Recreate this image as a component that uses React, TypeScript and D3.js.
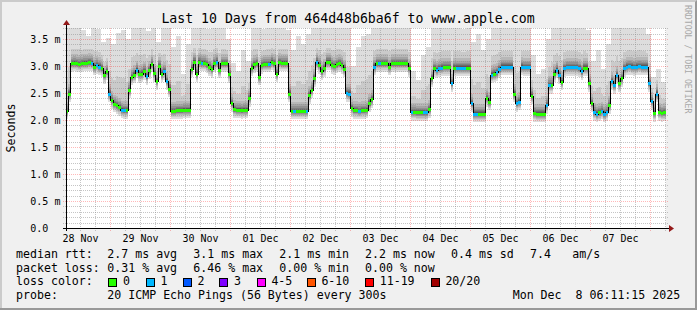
import React from "react";
import * as d3 from "d3";

// ---------- time range ----------
const START = Date.UTC(2025, 10, 28, 6, 11, 15);
const END = Date.UTC(2025, 11, 8, 6, 11, 15);
const HOUR = 3600e3;

const dayLabels = ["28 Nov", "29 Nov", "30 Nov", "01 Dec", "02 Dec", "03 Dec", "04 Dec", "05 Dec", "06 Dec", "07 Dec"];
const dayFirstHour = [6, 0, 0, 0, 0, 0, 0, 0, 0, 0, 0];

// ---------- y axis ----------
const yTickValues = [0, 0.5, 1, 1.5, 2, 2.5, 3, 3.5];
const yTickLabels = ["0.0", "0.5 m", "1.0 m", "1.5 m", "2.0 m", "2.5 m", "3.0 m", "3.5 m"];

// ---------- hourly median rtt (ms) ----------
const medianNov28 = [2.17, 2.49, 3.05, 3.06, 3.05, 3.04, 3.05, 3.06, 3.06, 3.07, 3.06, 2.99, 3.02, 2.99, 2.96, 2.83, 2.9, 2.49];
const medianNov29 = [2.37, 2.3, 2.27, 2.24, 2.19, 2.18, 2.18, 2.56, 2.8, 2.84, 2.93, 2.85, 2.86, 2.91, 2.81, 2.92, 3.04, 2.87, 2.72, 3.0, 2.86, 2.9, 2.72, 2.58];
const medianNov30 = [2.17, 2.17, 2.18, 2.18, 2.18, 2.19, 2.19, 2.19, 2.95, 3.08, 2.86, 3.08, 3.06, 3.06, 3.03, 2.98, 2.94, 3.05, 3.08, 2.93, 3.05, 3.05, 3.05, 2.85];
const medianDec1 = [2.31, 2.2, 2.19, 2.19, 2.18, 2.19, 2.19, 2.41, 2.97, 3.03, 3.05, 2.8, 3.02, 3.04, 3.04, 3.04, 3.08, 3.05, 2.86, 3.07, 3.06, 3.06, 3.06, 2.49];
const medianDec2 = [2.17, 2.17, 2.17, 2.17, 2.17, 2.17, 2.17, 2.46, 2.56, 2.77, 3.08, 3.02, 2.9, 2.96, 3.08, 3.08, 3.02, 3.0, 3.03, 3.05, 3.02, 2.95, 2.5, 2.49];
const medianDec3 = [2.22, 2.18, 2.18, 2.17, 2.18, 2.18, 2.19, 2.31, 2.38, 2.99, 3.05, 3.05, 3.05, 3.05, 3.05, 2.99, 3.05, 3.05, 3.05, 3.05, 3.05, 3.05, 3.05, 2.96];
const medianDec4 = [2.15, 2.15, 2.14, 2.14, 2.14, 2.14, 2.14, 2.2, 2.77, 2.96, 2.93, 2.96, 2.97, 2.98, 2.98, 2.98, 2.68, 2.97, 2.97, 2.97, 2.97, 2.97, 2.97, 2.97];
const medianDec5 = [2.31, 2.12, 2.12, 2.12, 2.12, 2.12, 2.41, 2.34, 2.84, 2.86, 2.88, 2.94, 2.99, 2.99, 2.99, 2.99, 2.99, 2.49, 2.31, 2.34, 2.99, 2.98, 2.98, 2.98];
const medianDec6 = [2.45, 2.13, 2.12, 2.12, 2.12, 2.12, 2.28, 2.65, 2.65, 2.86, 2.93, 2.83, 2.71, 2.96, 2.98, 2.98, 2.98, 2.98, 2.98, 2.96, 2.9, 2.97, 2.97, 2.68];
const medianDec7 = [2.31, 2.15, 2.12, 2.14, 2.17, 2.12, 2.15, 2.28, 2.72, 2.65, 2.83, 2.68, 2.77, 2.96, 2.99, 3.0, 2.99, 2.98, 2.99, 3.0, 2.99, 2.99, 2.99, 2.68];
const medianDec8 = [2.35, 2.13, 2.49, 2.15, 2.13, 2.14, 2.14];

// ---------- hourly lost pings (of 20) ----------
const lossNov28 = [0, 0, 0, 0, 0, 0, 0, 0, 0, 0, 1, 0, 1, 1, 0, 0, 0, 1];
const lossNov29 = [0, 0, 0, 0, 1, 1, 0, 0, 0, 0, 1, 0, 0, 0, 1, 0, 0, 0, 0, 0, 0, 1, 1, 0];
const lossNov30 = [0, 0, 0, 0, 0, 0, 0, 0, 0, 0, 0, 0, 1, 0, 0, 0, 0, 0, 1, 0, 0, 0, 0, 0];
const lossDec1 = [0, 0, 0, 0, 0, 0, 0, 0, 0, 0, 0, 0, 0, 0, 0, 1, 0, 0, 0, 0, 0, 0, 0, 0];
const lossDec2 = [0, 1, 0, 0, 0, 0, 1, 0, 0, 0, 1, 0, 0, 0, 0, 0, 0, 0, 0, 0, 0, 0, 1, 1];
const lossDec3 = [0, 0, 0, 1, 0, 0, 0, 0, 0, 1, 0, 1, 0, 0, 0, 0, 0, 0, 0, 0, 0, 0, 0, 0];
const lossDec4 = [1, 0, 0, 0, 0, 1, 1, 0, 0, 0, 1, 1, 1, 0, 0, 0, 1, 0, 1, 1, 1, 1, 0, 0];
const lossDec5 = [1, 1, 1, 0, 0, 0, 0, 0, 1, 0, 1, 1, 1, 1, 1, 1, 1, 0, 1, 1, 1, 1, 1, 1];
const lossDec6 = [0, 0, 0, 0, 0, 0, 1, 1, 0, 0, 1, 1, 0, 1, 1, 1, 1, 1, 1, 1, 1, 0, 0, 0];
const lossDec7 = [0, 1, 1, 0, 1, 1, 1, 0, 1, 1, 1, 0, 0, 1, 1, 1, 1, 1, 1, 1, 1, 1, 1, 1];
const lossDec8 = [1, 0, 1, 0, 0, 0, 0];

// ---------- highest ping per 2-hour bin (ms) ----------
const smokeTopNov28 = [3.7, 3.72, 3.72, 3.66, 3.55, 3.72, 3.68, 3.45, 3.52];
const smokeTopNov29 = [3.4, 3.62, 3.66, 3.5, 3.72, 3.72, 3.7, 3.64, 3.72, 3.45, 3.7, 3.72];
const smokeTopNov30 = [3.35, 3.55, 2.85, 3.4, 3.72, 3.72, 3.72, 3.68, 3.72, 3.72, 3.72, 3.5];
const smokeTopDec1 = [3.05, 2.9, 3.3, 3.1, 3.72, 3.72, 3.68, 3.72, 3.72, 3.7, 3.72, 3.66];
const smokeTopDec2 = [3.3, 3.55, 3.4, 3.6, 3.72, 3.72, 3.72, 3.7, 3.72, 3.72, 3.72, 3.72];
const smokeTopDec3 = [3.0, 3.35, 3.55, 3.6, 3.72, 3.72, 3.72, 3.72, 3.72, 3.7, 3.72, 3.72];
const smokeTopDec4 = [2.9, 2.75, 3.2, 3.35, 3.72, 3.72, 3.72, 3.72, 3.72, 3.72, 3.68, 3.72];
const smokeTopDec5 = [3.45, 3.6, 3.3, 3.5, 3.72, 3.72, 3.72, 3.72, 3.7, 3.72, 3.72, 3.72];
const smokeTopDec6 = [3.2, 2.85, 2.95, 3.5, 3.72, 3.72, 3.72, 3.72, 3.72, 3.72, 3.72, 3.66];
const smokeTopDec7 = [3.1, 3.3, 2.95, 3.4, 3.72, 3.72, 3.72, 3.72, 3.72, 3.72, 3.72, 3.6];
const smokeTopDec8 = [2.8, 2.95, 2.7, 2.7];

// estimated spread of the sorted pings around the median (ms)
const belowMedianOffsets = [0.16, 0.12, 0.095, 0.075, 0.058, 0.044, 0.032, 0.021, 0.011, 0.004];
const aboveMedianOffsets = [0.004, 0.012, 0.024, 0.04, 0.06, 0.085, 0.12, 0.17];

// ---------- legend ----------
const lossColorLabels = ["0", "1", "2", "3", "4-5", "6-10", "11-19", "20/20"];
const lossColors = ["#26ff00", "#00b8ff", "#0059ff", "#7e00ff", "#ff00ff", "#ff5500", "#ff0000", "#a10000"];
const rttStats = ["2.7 ms avg", "3.1 ms max", "2.1 ms min", "2.2 ms now", "0.4 ms sd", "7.4", "am/s"];
const lossStats = ["0.31 % avg", "6.46 % max", "0.00 % min", "0.00 % now"];
const probeText = "20 ICMP Echo Pings (56 Bytes) every 300s";
const dateText = "Mon Dec  8 06:11:15 2025";
const titleText = "Last 10 Days from 464d48b6ba6f to www.apple.com";

const medianDays = [medianNov28, medianNov29, medianNov30, medianDec1, medianDec2, medianDec3, medianDec4, medianDec5, medianDec6, medianDec7, medianDec8];
const lossDays = [lossNov28, lossNov29, lossNov30, lossDec1, lossDec2, lossDec3, lossDec4, lossDec5, lossDec6, lossDec7, lossDec8];
const smokeDays = [smokeTopNov28, smokeTopNov29, smokeTopNov30, smokeTopDec1, smokeTopDec2, smokeTopDec3, smokeTopDec4, smokeTopDec5, smokeTopDec6, smokeTopDec7, smokeTopDec8];

type Pt = { t: number; m: number; loss: number; top: number; p: number[] };

function buildSeries(): Pt[] {
  const out: Pt[] = [];
  medianDays.forEach((arr, d) => {
    const dayStart = Date.UTC(2025, 10, 28 + d);
    const fh = dayFirstHour[d];
    arr.forEach((m, j) => {
      const hour = fh + j;
      const top = smokeDays[d][Math.floor(hour / 2) - fh / 2];
      const p: number[] = [];
      belowMedianOffsets.forEach((o) => p.push(m - o));
      aboveMedianOffsets.forEach((o) => p.push(Math.min(top, m + o)));
      p.push(Math.min(top, Math.max(m + 0.25, m + 0.4 * (top - m))));
      p.push(top);
      out.push({ t: dayStart + hour * HOUR, m, loss: lossDays[d][j], top, p });
    });
  });
  const last = out[out.length - 1];
  out.push({ ...last, t: END + HOUR });
  return out;
}

const FONT = "'DejaVu Sans Mono', monospace";

export default function App() {
  const X0 = 66, X1 = 666, Y0 = 28, Y1 = 228;
  const x = d3.scaleUtc().domain([new Date(START), new Date(END)]).range([X0, X1]);
  const y = d3.scaleLinear().domain([0, 3.5]).range([Y1, 39]);
  const cx = (v: number) => Math.floor(v) + 0.5;
  const cy = (v: number) => Math.round(v) + 0.5;

  const series = buildSeries();

  const smokeLayers = d3.range(10).map((k) => {
    const area = d3
      .area<Pt>()
      .x((d) => x(d.t))
      .y0((d) => y(d.p[k]))
      .y1((d) => y(d.p[19 - k]))
      .curve(d3.curveStepAfter);
    const g = Math.floor((190 / 10) * (10 - (k + 1))) + 50;
    const hex = g.toString(16).padStart(2, "0");
    return { d: area(series) || "", color: `#${hex}${hex}${hex}` };
  });

  const medianLine = d3
    .line<Pt>()
    .x((d) => x(d.t))
    .y((d) => Math.round(y(d.m)) + 0.5)
    .curve(d3.curveStepAfter)(series) || "";

  // grids
  const minorH: number[] = [];
  for (let i = 1; i <= 37; i++) if (i % 5 !== 0) minorH.push(i / 10);
  const majorH = yTickValues.filter((v) => v > 0);
  const sixHours: { t: number; major: boolean }[] = [];
  for (let t = Date.UTC(2025, 10, 28, 12); t <= END; t += 6 * HOUR) {
    sixHours.push({ t, major: new Date(t).getUTCHours() === 0 });
  }
  const noonTicks = dayLabels.map((_, i) => Date.UTC(2025, 10, 28 + i, 12));

  const minorColor = "rgba(140,140,140,0.5)";
  const majorColor = "rgba(255,0,0,0.28)";

  const legendX = 16;
  const valX = 107.3;
  const statX = [107.3, 193.3, 279.3, 365, 451, 530, 572.3];
  const boxX = [108.3, 145.7, 182.7, 219.3, 256.7, 306.7, 365, 430.7];
  const rowY = [258, 271.7, 285.4, 299];

  return (
    <svg
      width={697}
      height={310}
      style={{ position: "absolute", left: 0, top: 0, display: "block" }}
      fontFamily={FONT}
    >
      <defs>
        <clipPath id="canvasClip">
          <rect x={X0} y={Y0} width={X1 - X0} height={Y1 - Y0} />
        </clipPath>
      </defs>
      {/* background and frame */}
      <rect x={0} y={0} width={697} height={310} fill="#f0f0f0" />
      <path d="M0,0 H697 V2 H2 V310 H0 Z" fill="#cbcbcb" />
      <path d="M697,0 V310 H0 V308 H695 V2 Z" fill="#999999" />
      <rect x={X0} y={Y0} width={X1 - X0} height={Y1 - Y0} fill="#ffffff" />

      {/* smoke */}
      <g clipPath="url(#canvasClip)" shapeRendering="crispEdges">
        {smokeLayers.map((l, i) => (
          <path key={i} d={l.d} fill={l.color} />
        ))}
      </g>

      {/* grid */}
      <g shapeRendering="crispEdges" strokeWidth={1} strokeDasharray="1,1">
        {minorH.map((v) => (
          <line key={"mh" + v} x1={63} x2={668} y1={cy(y(v))} y2={cy(y(v))} stroke={minorColor} />
        ))}
        {sixHours.filter((s) => !s.major).map((s) => (
          <line key={"mv" + s.t} x1={cx(x(s.t))} x2={cx(x(s.t))} y1={Y0} y2={231} stroke={minorColor} />
        ))}
        {majorH.map((v) => (
          <line key={"Mh" + v} x1={63} x2={668} y1={cy(y(v))} y2={cy(y(v))} stroke={majorColor} />
        ))}
        {sixHours.filter((s) => s.major).map((s) => (
          <line key={"Mv" + s.t} x1={cx(x(s.t))} x2={cx(x(s.t))} y1={Y0} y2={231} stroke={majorColor} />
        ))}
      </g>

      {/* median line and loss colours */}
      <g clipPath="url(#canvasClip)">
        <path d={medianLine} fill="none" stroke="#000" strokeWidth={1} shapeRendering="crispEdges" />
        {series.slice(0, -1).map((d, i) => {
          const xa = Math.max(X0, x(d.t));
          const xb = Math.min(X1, x(d.t + HOUR));
          if (xb <= xa) return null;
          return (
            <rect
              key={"lc" + i}
              x={xa}
              y={Math.round(y(d.m)) - 1}
              width={xb - xa}
              height={3}
              fill={lossColors[d.loss]}
              shapeRendering="crispEdges"
            />
          );
        })}
      </g>

      {/* axes */}
      <line x1={63} x2={670} y1={228.5} y2={228.5} stroke="#000" shapeRendering="crispEdges" />
      <line x1={66.5} x2={66.5} y1={231} y2={24} stroke="#000" shapeRendering="crispEdges" />
      <path d="M669,225 L674,228.5 L669,232 Z" fill="#941a1a" />
      <path d="M63,25 L66.5,20 L70,25 Z" fill="#941a1a" />

      {/* y labels */}
      {yTickValues.map((v, i) => (
        <text key={"yl" + v} x={30.3} y={cy(y(v)) + 3.5} fontSize={10} fill="#000">
          {yTickLabels[i]}
        </text>
      ))}
      {/* x labels */}
      {noonTicks.map((t, i) => (
        <text key={"xl" + t} x={x(t)} y={241.5} fontSize={10} textAnchor="middle" fill="#000">
          {dayLabels[i]}
        </text>
      ))}

      {/* title */}
      <text x={348} y={23} fontSize={13.2} textAnchor="middle" fill="#000">
        {titleText}
      </text>
      {/* y axis title */}
      <text transform="translate(15,128) rotate(-90)" fontSize={11.6} textAnchor="middle" fill="#000">
        Seconds
      </text>
      {/* watermark */}
      <text transform="translate(685,5) rotate(90)" fontSize={8.2} fill="#a8a8a8">
        RRDTOOL / TOBI OETIKER
      </text>

      {/* legend */}
      <g fontSize={11.6} fill="#000" style={{ whiteSpace: "pre" }}>
        <text x={legendX} y={rowY[0]}>median rtt:</text>
        {rttStats.map((s, i) => (
          <text key={"rs" + i} x={statX[i]} y={rowY[0]}>{s}</text>
        ))}
        <text x={legendX} y={rowY[1]}>packet loss:</text>
        {lossStats.map((s, i) => (
          <text key={"ls" + i} x={statX[i]} y={rowY[1]}>{s}</text>
        ))}
        <text x={legendX} y={rowY[2]}>loss color:</text>
        {lossColorLabels.map((s, i) => (
          <g key={"lc" + i}>
            <rect x={boxX[i] + 0.5} y={278.5} width={8} height={8} fill={lossColors[i]} stroke="#000" strokeWidth={1} shapeRendering="crispEdges" />
            <text x={boxX[i] + 14.7} y={rowY[2]}>{s}</text>
          </g>
        ))}
        <text x={legendX} y={rowY[3]}>probe:</text>
        <text x={valX} y={rowY[3]}>{probeText}</text>
        <text x={512.7} y={rowY[3]} xmlSpace="preserve">{dateText}</text>
      </g>
    </svg>
  );
}
